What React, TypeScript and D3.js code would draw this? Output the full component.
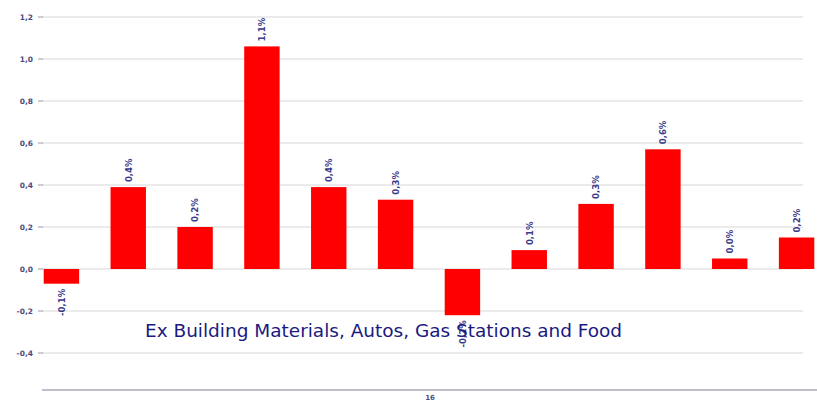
import React from "react";
import * as d3 from "d3";

const categories = ["1", "2", "3", "4", "5", "6", "7", "8", "9", "10", "11", "12"];
const values = [-0.07, 0.39, 0.2, 1.06, 0.39, 0.33, -0.22, 0.09, 0.31, 0.57, 0.05, 0.15];
const valueLabels = ["-0,1%", "0,4%", "0,2%", "1,1%", "0,4%", "0,3%", "-0,2%", "0,1%", "0,3%", "0,6%", "0,0%", "0,2%"];
const yTicks = [-0.4, -0.2, 0, 0.2, 0.4, 0.6, 0.8, 1.0, 1.2];
const xAxisLabel = "16";
const title = "Ex Building Materials, Autos, Gas Stations and Food";

const W = 817;
const H = 404;

export default function App() {
  const y = d3.scaleLinear().domain([-0.4, 1.2]).range([353, 17]);
  const x = d3.scaleBand<string>().domain(categories).range([28, 830]).paddingInner(0.47).paddingOuter(0.235);
  const fmt = (v: number) => v.toFixed(1).replace(".", ",");
  return (
    <svg width={W} height={H} style={{ position: "absolute", left: 0, top: 0, background: "#fff" }}>
      {yTicks.map((t) => (
        <g key={t}>
          <line x1={42} x2={803} y1={y(t)} y2={y(t)} stroke="#e4e4e4" strokeWidth={1.5} />
          <line x1={38} x2={43} y1={y(t)} y2={y(t)} stroke="#9a9ab0" strokeWidth={1} />
          <text x={33} y={y(t)} dy="0.35em" textAnchor="end" fontFamily="DejaVu Sans" fontWeight="bold" fontSize={7.5} fill="#4a4a80">
            {fmt(t)}
          </text>
        </g>
      ))}
      {values.map((v, i) => {
        const bx = x(categories[i])!;
        const top = y(Math.max(0, v));
        const bot = y(Math.min(0, v));
        const cx = bx + x.bandwidth() / 2;
        const ly = v >= 0 ? top - 5 : bot + 5;
        return (
          <g key={i}>
            <rect x={bx} y={top} width={x.bandwidth()} height={bot - top} fill="#ff0000" />
            <text
              transform={`translate(${cx},${ly}) rotate(-90)`}
              textAnchor={v >= 0 ? "start" : "end"}
              dy="0.35em"
              fontFamily="DejaVu Sans Condensed"
              fontWeight="bold"
              fontSize={9.5}
              fill="#3a3a8a"
            >
              {valueLabels[i]}
            </text>
          </g>
        );
      })}
      <line x1={42} x2={817} y1={390} y2={390} stroke="#a8a8bc" strokeWidth={1.5} />
      <text x={430} y={400} textAnchor="middle" fontFamily="DejaVu Sans" fontWeight="bold" fontSize={7} fill="#4a4a80">
        {xAxisLabel}
      </text>
      <text x={145} y={337} fontFamily="DejaVu Sans Condensed" fontSize={17.5} fill="#1a1a80" textLength={477} lengthAdjust="spacingAndGlyphs">
        {title}
      </text>
    </svg>
  );
}
